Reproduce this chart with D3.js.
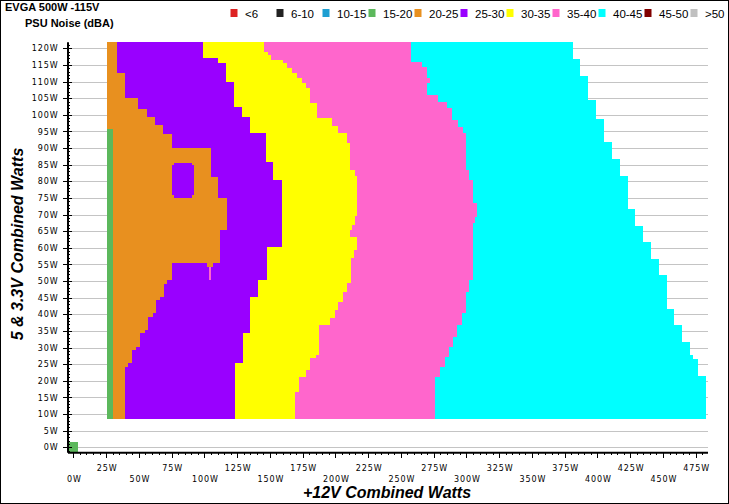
<!DOCTYPE html>
<html lang="en">
<head>
    <meta charset="UTF-8">
    <title>EVGA 500W -115V PSU Noise</title>
    <script src="https://cdn.jsdelivr.net/npm/d3@7"></script>
    <style>
        body { margin: 0; background: #fff; }
        svg { display: block; font-family: "Liberation Sans", Arial, sans-serif; }
        .grid line { stroke: #c4c4c4; stroke-width: 1px; shape-rendering: crispEdges; }
        .band rect, .spot { shape-rendering: crispEdges; }
        .axis .domain { stroke: #000; stroke-width: 2px; }
        .axis line { stroke: #000; shape-rendering: crispEdges; }
        .axis text { font-family: "DejaVu Sans", Verdana, sans-serif; font-size: 8px; letter-spacing: 0.9px; fill: #000; }
        .axis-title { font-size: 16px; font-weight: bold; font-style: italic; }
    </style>
</head>
<body>
<svg width="729" height="504"></svg>
<script>
    // noise bands in dBA and their colours
    var levels = ["<6", "6-10", "10-15", "15-20", "20-25", "25-30", "30-35", "35-40", "40-45", "45-50", ">50"];
    var levelColors = ["#dd2222", "#222222", "#1e9fd2", "#5cb85c", "#e8901f", "#9900ff", "#ffff00", "#ff66cc", "#00ffff", "#800000", "#c0c0c0"];

    var yTicks = d3.range(0, 121, 5);   // 5 & 3.3V watts
    var xTicks = d3.range(0, 476, 25);  // +12V watts

    // staircases: [top 5&3.3V W, bottom 5&3.3V W, +12V W where the band begins]
    var greenStart = [[95.6, 8.6, 25.6]];
    var orangeStart = [[122, 95.6, 25.6], [95.6, 8.6, 30.5]];
    var purpleStart = [
        [122, 112.5, 33.0], [112.5, 105, 39.4], [105, 101.7, 49.5], [101.7, 99.4, 55.9],
        [99.4, 96.9, 62.3], [96.9, 94.2, 68.6], [94.2, 89.9, 75.0], [89.9, 81.4, 104.8],
        [81.4, 74.9, 110.6], [74.9, 65.4, 117.0], [65.4, 55.3, 111.7], [55.3, 50.3, 75.5],
        [50.3, 49.0, 71.5], [49.0, 45.3, 69.2], [45.3, 44.3, 66.0], [44.3, 40.3, 63.1],
        [40.3, 39.3, 61.0], [39.3, 35.3, 57.2], [35.3, 34.3, 55.0], [34.3, 30.3, 50.8],
        [30.3, 29.3, 48.0], [29.3, 25.3, 45.0], [25.3, 24.3, 42.0], [24.3, 8.6, 39.4]
    ];
    var yellowStart = [
        [122, 117, 98.7], [117, 115.5, 110.6], [115.5, 110, 116.5], [110, 102.4, 122.8],
        [102.4, 99.4, 128.4], [99.4, 94.4, 134.8], [94.4, 85.9, 146.8], [85.9, 80.4, 152.6],
        [80.4, 60.3, 159.0], [60.3, 50.3, 147.6], [50.3, 45.3, 141.2], [45.3, 34.3, 134.8],
        [34.3, 25.3, 129.2], [25.3, 8.6, 123.4]
    ];
    var pinkStart = [
        [122, 119, 145.5], [119, 118, 148.8], [118, 116.5, 150.6], [116.5, 115.5, 160.2],
        [115.5, 114, 163.3], [114, 112.5, 166.6], [112.5, 111, 170.4], [111, 109.5, 174.3],
        [109.5, 108, 177.6], [108, 103.5, 180.6], [103.5, 99, 185.7], [99, 96.5, 197.2],
        [96.5, 94.5, 202.2], [94.5, 91.5, 208.6], [91.5, 83.5, 211.1], [83.5, 81.5, 215.0],
        [81.5, 69.5, 216.7], [69.5, 67, 215.0], [67, 65.4, 212.4], [65.4, 63.3, 211.1],
        [63.3, 59.3, 216.3], [59.3, 56.8, 214.2], [56.8, 49.3, 211.7], [49.3, 46.8, 208.6],
        [46.8, 43.8, 205.6], [43.8, 41.3, 202.2], [41.3, 38.8, 199.7], [38.8, 36.8, 195.9],
        [36.8, 27.8, 187.7], [27.8, 26.8, 185.2], [26.8, 23.2, 180.6], [23.2, 21.2, 177.6],
        [21.2, 16.7, 172.5], [16.7, 8.6, 169.2]
    ];
    var cyanStart = [
        [122, 116, 257.7], [116, 114.5, 265.9], [114.5, 111, 269.7], [111, 109.5, 272.2],
        [109.5, 106, 270.2], [106, 104, 278.6], [104, 102, 285.0], [102, 98.4, 288.8],
        [98.4, 96.4, 293.8], [96.4, 94.4, 297.6], [94.4, 83.4, 299.7], [83.4, 80.4, 302.2],
        [80.4, 73.4, 305.3], [73.4, 69.4, 308.3], [69.4, 67.4, 306.6], [67.4, 50.3, 305.3],
        [50.3, 46.8, 302.2], [46.8, 40.3, 299.7], [40.3, 36.8, 296.4], [36.8, 33.3, 293.1],
        [33.3, 30.3, 290.0], [30.3, 27.2, 287.0], [27.2, 24.2, 283.7], [24.2, 21.2, 279.8],
        [21.2, 8.6, 276.0]
    ];
    // last measured +12V load per row
    var loadEnd = [
        [122, 116.8, 381.1], [116.8, 111.7, 386.7], [111.7, 104.5, 392.6], [104.5, 98.9, 398.7],
        [98.9, 91.8, 404.8], [91.8, 86.7, 410.9], [86.7, 81.6, 417.3], [81.6, 71.7, 423.1],
        [71.7, 66.6, 428.7], [66.6, 61.7, 434.6], [61.7, 56.6, 440.7], [56.6, 51.8, 447.0],
        [51.8, 41.6, 452.9], [41.6, 36.8, 458.5], [36.8, 31.7, 464.3], [31.7, 27.8, 470.7],
        [27.8, 26.6, 473.2], [26.6, 21.5, 476.6], [21.5, 8.6, 483.0]
    ];
    // odd cells: [top, bottom, from, to, level]
    var spots = [
        [1.6, -1.3, -4.5, 3.2, "15-20"],
        [85.6, 84.9, 77.0, 90.5, "25-30"],
        [84.9, 75.8, 75.5, 92.1, "25-30"],
        [75.8, 75.1, 77.0, 90.5, "25-30"],
        [55.3, 54.3, 101.7, 106.3, "20-25"],
        [54.3, 50.3, 103.6, 105.0, "35-40"]
    ];

    var layers = [
        {level: "15-20", steps: greenStart},
        {level: "20-25", steps: orangeStart},
        {level: "25-30", steps: purpleStart},
        {level: "30-35", steps: yellowStart},
        {level: "35-40", steps: pinkStart},
        {level: "40-45", steps: cyanStart}
    ];

    var svg = d3.select("svg"),
        width = +svg.attr("width"),
        height = +svg.attr("height");

    var color = d3.scaleOrdinal().domain(levels).range(levelColors);
    var x = d3.scaleLinear().domain([-4.5, 484]).range([67.5, 707.5]);
    var y = d3.scaleLinear().domain([-1.5, 122]).range([452.3, 41.7]);
    var xMax = x.domain()[1];

    svg.append("rect")
        .attr("x", 0.5).attr("y", 0.5)
        .attr("width", width - 1).attr("height", height - 1)
        .attr("fill", "#fff").attr("stroke", "#000");

    // titles
    svg.append("text").attr("x", 5).attr("y", 11)
        .style("font-size", "11px").style("font-weight", "bold")
        .text("EVGA 500W -115V");
    svg.append("text").attr("x", 25).attr("y", 26.5)
        .style("font-size", "11px").style("font-weight", "bold")
        .text("PSU Noise (dBA)");

    // legend
    var legend = svg.append("g").selectAll("g")
        .data(levels)
        .enter().append("g")
        .attr("transform", function (d, i) {
            return "translate(" + (230.5 + i * 46) + ",0)";
        });
    legend.append("rect")
        .attr("y", 9).attr("width", 7).attr("height", 8)
        .attr("fill", function (d) { return color(d); });
    legend.append("text")
        .attr("x", 14.5).attr("y", 17.5)
        .style("font-size", "11.5px")
        .text(function (d) { return d; });

    // grid
    svg.append("g").attr("class", "grid")
        .selectAll("line")
        .data(yTicks)
        .enter().append("line")
        .attr("x1", x.range()[0]).attr("x2", x.range()[1])
        .attr("y1", function (d) { return Math.round(y(d)) + 0.5; })
        .attr("y2", function (d) { return Math.round(y(d)) + 0.5; });

    function px(v) { return Math.round(x(v)); }
    function py(v) { return Math.round(y(v)); }

    svg.append("defs").append("clipPath").attr("id", "measured")
        .selectAll("rect")
        .data(loadEnd)
        .enter().append("rect")
        .attr("x", x.range()[0])
        .attr("y", function (d) { return py(d[0]); })
        .attr("width", function (d) { return px(d[2]) - x.range()[0]; })
        .attr("height", function (d) { return py(d[1]) - py(d[0]); });

    var map = svg.append("g").attr("clip-path", "url(#measured)");
    layers.forEach(function (layer) {
        map.append("g").attr("class", "band")
            .selectAll("rect")
            .data(layer.steps)
            .enter().append("rect")
            .attr("x", function (d) { return px(d[2]); })
            .attr("y", function (d) { return py(d[0]); })
            .attr("width", function (d) { return px(xMax) - px(d[2]); })
            .attr("height", function (d) { return py(d[1]) - py(d[0]); })
            .attr("fill", color(layer.level));
    });

    svg.append("g").selectAll("rect")
        .data(spots)
        .enter().append("rect")
        .attr("class", "spot")
        .attr("x", function (d) { return px(d[2]); })
        .attr("y", function (d) { return py(d[0]); })
        .attr("width", function (d) { return px(d[3]) - px(d[2]); })
        .attr("height", function (d) { return py(d[1]) - py(d[0]); })
        .attr("fill", function (d) { return color(d[4]); });

    // y axis: labelled ticks cross the line, small ticks every watt
    var yAxis = svg.append("g").attr("class", "axis")
        .attr("transform", "translate(" + x.range()[0] + ",0)")
        .call(d3.axisLeft(y).tickValues(yTicks).tickSize(5).tickPadding(4).tickSizeOuter(0)
            .tickFormat(function (d) { return d + "W"; }));
    svg.append("g").attr("class", "axis")
        .attr("transform", "translate(" + x.range()[0] + ",0)")
        .call(d3.axisRight(y).tickValues(yTicks).tickSize(4).tickFormat(""))
        .select(".domain").remove();
    svg.append("g").attr("class", "axis")
        .attr("transform", "translate(" + x.range()[0] + ",0)")
        .call(d3.axisRight(y).tickValues(d3.range(-1, 122)).tickSize(2).tickFormat(""))
        .select(".domain").remove();

    // x axis, labels staggered in two rows
    var xAxis = svg.append("g").attr("class", "axis")
        .attr("transform", "translate(0," + y.range()[0] + ")")
        .call(d3.axisBottom(x).tickValues(xTicks).tickSize(6).tickSizeOuter(0)
            .tickFormat(function (d) { return d + "W"; }));
    xAxis.selectAll(".tick text")
        .attr("dy", 0)
        .attr("dx", 0.5)
        .attr("y", function (d) { return (d / 25) % 2 ? 18.5 : 29.5; });
    svg.append("g").attr("class", "axis")
        .attr("transform", "translate(0," + y.range()[0] + ")")
        .call(d3.axisBottom(x).tickValues(d3.range(0, 485, 5)).tickSize(3).tickFormat(""))
        .select(".domain").remove();

    svg.selectAll(".axis").attr("font-family", null).attr("font-size", null);

    svg.append("text").attr("class", "axis-title")
        .attr("text-anchor", "middle")
        .attr("transform", "translate(23,244) rotate(-90)")
        .text("5 & 3.3V Combined Watts");
    svg.append("text").attr("class", "axis-title")
        .attr("text-anchor", "middle")
        .attr("x", 387).attr("y", 498)
        .text("+12V Combined Watts");
</script>
</body>
</html>
